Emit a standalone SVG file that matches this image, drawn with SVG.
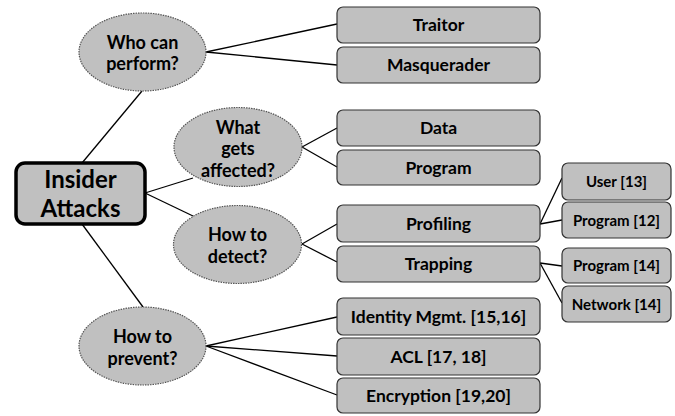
<svg xmlns="http://www.w3.org/2000/svg" width="675" height="416" viewBox="0 0 675 416">
<style>
.box{fill:#c0c0c0;stroke:#333;stroke-width:1.2}
.small{fill:#c0c0c0;stroke:#333;stroke-width:1.2}
.ell{fill:#c0c0c0;stroke:#555;stroke-width:1.2;stroke-dasharray:1.5 1}
.root{fill:#c0c0c0;stroke:#000;stroke-width:3.5}
text{font-family:Lato,"Liberation Sans",sans-serif;font-weight:bold;fill:#000;text-anchor:middle}
.t{font-size:17.5px}
.s{font-size:15px}
.e{font-size:18px}
.r{font-size:24px}
#connectors line{stroke:#000;stroke-width:1.3}
</style>
<rect width="675" height="416" fill="#fff"/>
<g id="connectors">
<line x1="206" y1="52" x2="337" y2="24"/>
<line x1="206" y1="52" x2="337" y2="65"/>
<line x1="142" y1="91" x2="82" y2="163"/>
<line x1="145" y1="193" x2="193" y2="178"/>
<line x1="145" y1="193" x2="193" y2="216"/>
<line x1="82" y1="224" x2="143" y2="307"/>
<line x1="302" y1="147" x2="337" y2="128"/>
<line x1="302" y1="147" x2="337" y2="167"/>
<line x1="302" y1="244" x2="337" y2="224"/>
<line x1="302" y1="244" x2="337" y2="262"/>
<line x1="206" y1="346" x2="337" y2="317"/>
<line x1="206" y1="346" x2="337" y2="356"/>
<line x1="206" y1="346" x2="337" y2="395"/>
<line x1="540" y1="224" x2="562" y2="178"/>
<line x1="540" y1="224" x2="562" y2="220"/>
<line x1="540" y1="263" x2="562" y2="266"/>
<line x1="540" y1="263" x2="562" y2="303"/>
</g>
<g id="root"><rect class="root" x="16" y="163" width="129" height="61" rx="9"/><text class="r" x="80.5" y="188">Insider</text><text class="r" x="80.5" y="217">Attacks</text></g>
<g id="who"><ellipse class="ell" cx="142.5" cy="52" rx="63.5" ry="39"/><text class="e" x="142.5" y="49">Who can</text><text class="e" x="142.5" y="70">perform?</text></g>
<g id="what"><ellipse class="ell" cx="238" cy="147" rx="64" ry="39.5"/><text class="e" x="238" y="134">What</text><text class="e" x="238" y="155">gets</text><text class="e" x="238" y="177">affected?</text></g>
<g id="detect"><ellipse class="ell" cx="237.5" cy="244.5" rx="64" ry="39"/><text class="e" x="237.5" y="241">How to</text><text class="e" x="237.5" y="263">detect?</text></g>
<g id="prevent"><ellipse class="ell" cx="142.5" cy="346" rx="63.5" ry="39"/><text class="e" x="142.5" y="343">How to</text><text class="e" x="142.5" y="365">prevent?</text></g>
<g id="traitor"><rect class="box" x="337" y="7" width="203" height="36" rx="6"/><text class="t" x="438.5" y="31">Traitor</text></g>
<g id="masquerader"><rect class="box" x="337" y="47" width="203" height="36" rx="6"/><text class="t" x="438.5" y="71">Masquerader</text></g>
<g id="data"><rect class="box" x="337" y="110" width="203" height="36" rx="6"/><text class="t" x="438.5" y="134">Data</text></g>
<g id="program"><rect class="box" x="337" y="150" width="203" height="35" rx="6"/><text class="t" x="438.5" y="174">Program</text></g>
<g id="profiling"><rect class="box" x="337" y="205" width="203" height="37" rx="6"/><text class="t" x="438.5" y="230">Profiling</text></g>
<g id="trapping"><rect class="box" x="337" y="246" width="203" height="36" rx="6"/><text class="t" x="438.5" y="270">Trapping</text></g>
<g id="identity"><rect class="box" x="337" y="298" width="203" height="37" rx="6"/><text class="t" x="438.5" y="323">Identity Mgmt. [15,16]</text></g>
<g id="acl"><rect class="box" x="337" y="338" width="203" height="37" rx="6"/><text class="t" x="438.5" y="363">ACL [17, 18]</text></g>
<g id="encryption"><rect class="box" x="337" y="378" width="203" height="35" rx="6"/><text class="t" x="438.5" y="402">Encryption [19,20]</text></g>
<g id="user13"><rect class="small" x="562" y="163" width="109" height="37" rx="6"/><text class="s" x="616.5" y="187">User [13]</text></g>
<g id="program12"><rect class="small" x="562" y="202" width="109" height="36" rx="6"/><text class="s" x="616.5" y="226">Program [12]</text></g>
<g id="program14"><rect class="small" x="562" y="248" width="109" height="35" rx="6"/><text class="s" x="616.5" y="271">Program [14]</text></g>
<g id="network14"><rect class="small" x="562" y="286" width="109" height="36" rx="6"/><text class="s" x="616.5" y="310">Network [14]</text></g>
</svg>
